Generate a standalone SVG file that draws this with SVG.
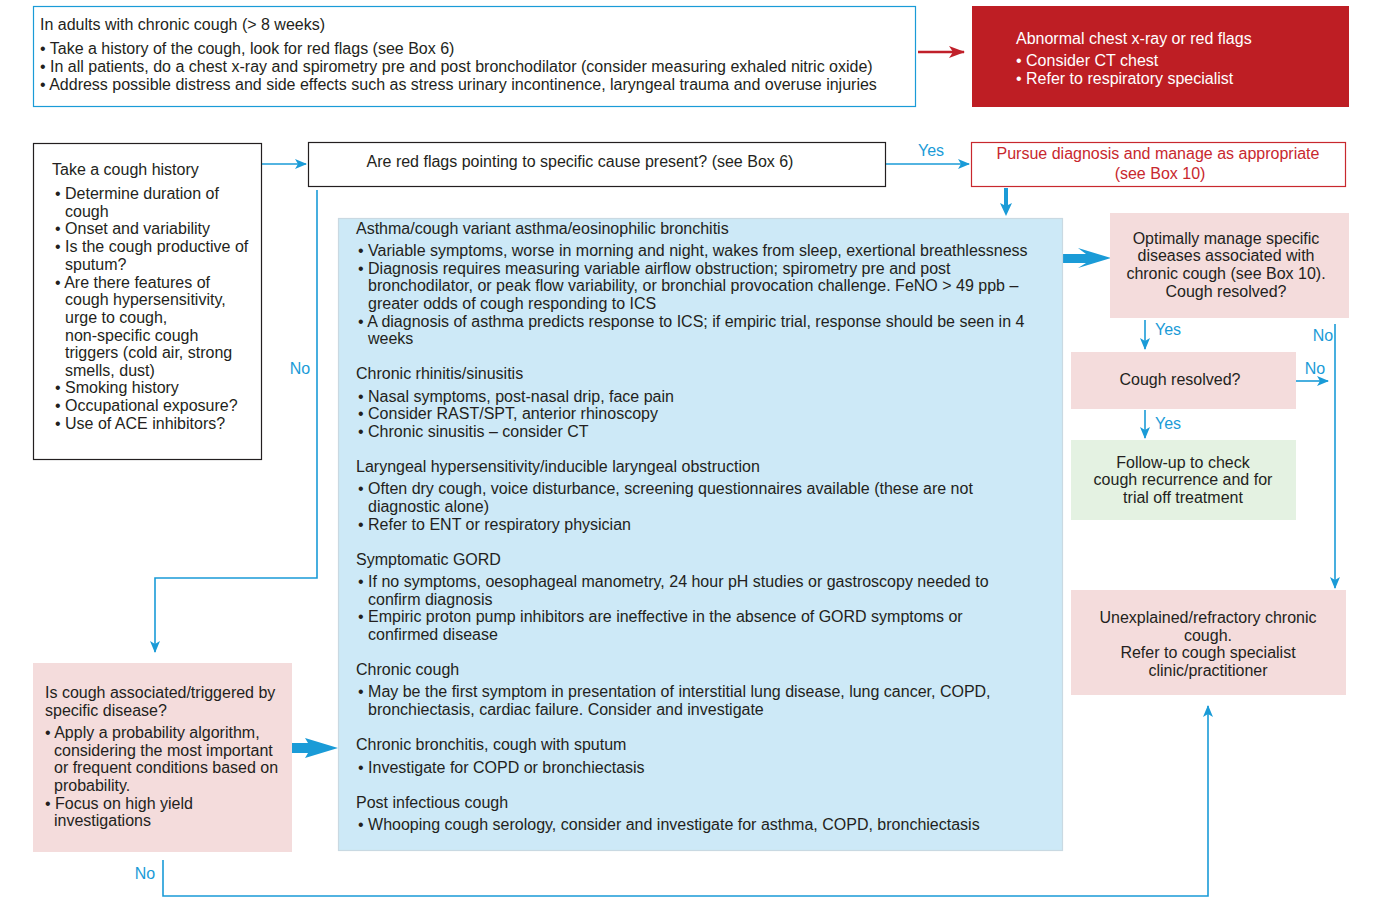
<svg xmlns="http://www.w3.org/2000/svg" width="1389" height="905" viewBox="0 0 1389 905">
<defs>
<style>
text{font-family:"Liberation Sans",Arial,sans-serif;font-size:16px;fill:#231f20}
.w{fill:#ffffff}
.r{fill:#c8282e}
.b{fill:#1a9bd7}
.c{text-anchor:middle}
.ln{fill:none;stroke:#1a9bd7;stroke-width:1.6}
.pink{fill:#f4dcdc}
</style>
<marker id="ah" viewBox="0 0 12 10" refX="11" refY="5" markerWidth="12" markerHeight="10" markerUnits="userSpaceOnUse" orient="auto">
<path d="M0,0 L12,5 L0,10 L3,5 Z" fill="#1a9bd7"/>
</marker>
<marker id="ahr" viewBox="0 0 16 12" refX="15" refY="6" markerWidth="16" markerHeight="12" markerUnits="userSpaceOnUse" orient="auto">
<path d="M0,0 L16,6 L0,12 L4,6 Z" fill="#c0202a"/>
</marker>
</defs>

<g id="connectors">
<line x1="918" y1="52" x2="964" y2="52" stroke="#c0202a" stroke-width="2.5" marker-end="url(#ahr)"/>
<line class="ln" x1="262" y1="164" x2="306" y2="164" marker-end="url(#ah)"/>
<line class="ln" x1="886" y1="164" x2="969" y2="164" marker-end="url(#ah)"/>
<text class="b" x="931" y="156" text-anchor="middle">Yes</text>
<path d="M1004,188 L1008,188 L1008,205 L1012,203 L1006,216 L1000,203 L1004,205 Z" fill="#1a9bd7"/>
<polyline class="ln" points="317,190 317,578 155,578 155,652" marker-end="url(#ah)"/>
<text class="b" x="300" y="374" text-anchor="middle">No</text>
<path d="M292,743 L308,743 L305,738 L338,748 L305,758 L308,753 L292,753 Z" fill="#1a9bd7"/>
<path d="M1063,254 L1086,254 L1078,248 L1111,258 L1078,268 L1086,263 L1063,263 Z" fill="#1a9bd7"/>
<line class="ln" x1="1145" y1="320" x2="1145" y2="349" marker-end="url(#ah)"/>
<text class="b" x="1168" y="335" text-anchor="middle">Yes</text>
<line class="ln" x1="1145" y1="410" x2="1145" y2="438" marker-end="url(#ah)"/>
<text class="b" x="1168" y="429" text-anchor="middle">Yes</text>
<line class="ln" x1="1296" y1="381" x2="1328" y2="381" marker-end="url(#ah)"/>
<text class="b" x="1315" y="374" text-anchor="middle">No</text>
<line class="ln" x1="1335" y1="324" x2="1335" y2="588" stroke-width="2" marker-end="url(#ah)"/>
<text class="b" x="1323" y="341" text-anchor="middle">No</text>
<polyline class="ln" points="163,860 163,896 1208,896 1208,706" marker-end="url(#ah)"/>
<text class="b" x="145" y="879" text-anchor="middle">No</text>
</g>

<g id="start">
<rect x="33.5" y="6.5" width="882" height="100" fill="#fff" stroke="#1a9bd7" stroke-width="1.2"/>
<text x="40" y="30">In adults with chronic cough (&gt; 8 weeks)</text>
<text x="40" y="54">• Take a history of the cough, look for red flags (see Box 6)</text>
<text x="40" y="72">• In all patients, do a chest x-ray and spirometry pre and post bronchodilator (consider measuring exhaled nitric oxide)</text>
<text x="40" y="90">• Address possible distress and side effects such as stress urinary incontinence, laryngeal trauma and overuse injuries</text>
</g>

<g id="redflags">
<rect x="972" y="6" width="377" height="101" fill="#be1e24"/>
<text class="w" x="1016" y="44">Abnormal chest x-ray or red flags</text>
<text class="w" x="1016" y="66">• Consider CT chest</text>
<text class="w" x="1016" y="84">• Refer to respiratory specialist</text>
</g>

<g id="history">
<rect x="33.5" y="143.5" width="228" height="316" fill="#fff" stroke="#231f20" stroke-width="1.2"/>
<text x="52" y="175">Take a cough history</text>
<text x="55" y="199">• Determine duration of</text>
<text x="65" y="217">cough</text>
<text x="55" y="234">• Onset and variability</text>
<text x="55" y="252">• Is the cough productive of</text>
<text x="65" y="270">sputum?</text>
<text x="55" y="288">• Are there features of</text>
<text x="65" y="305">cough hypersensitivity,</text>
<text x="65" y="323">urge to cough,</text>
<text x="65" y="341">non-specific cough</text>
<text x="65" y="358">triggers (cold air, strong</text>
<text x="65" y="376">smells, dust)</text>
<text x="55" y="393">• Smoking history</text>
<text x="55" y="411">• Occupational exposure?</text>
<text x="55" y="429">• Use of ACE inhibitors?</text>
</g>

<g id="question">
<rect x="308.5" y="142.5" width="577" height="44" fill="#fff" stroke="#231f20" stroke-width="1.2"/>
<text x="580" y="167" class="c">Are red flags pointing to specific cause present? (see Box 6)</text>
</g>

<g id="pursue">
<rect x="971.5" y="142.5" width="374" height="44" fill="#fff" stroke="#c8282e" stroke-width="1.2"/>
<text class="r c" x="1158" y="159">Pursue diagnosis and manage as appropriate</text>
<text class="r c" x="1160" y="179">(see Box 10)</text>
</g>

<g id="causes">
<rect x="338.5" y="218.5" width="724" height="632" fill="#cde9f7" stroke="#c9d9e2" stroke-width="1.2"/>
<text x="356" y="234">Asthma/cough variant asthma/eosinophilic bronchitis</text>
<text x="358" y="256">• Variable symptoms, worse in morning and night, wakes from sleep, exertional breathlessness</text>
<text x="358" y="274">• Diagnosis requires measuring variable airflow obstruction; spirometry pre and post</text>
<text x="368" y="291">bronchodilator, or peak flow variability, or bronchial provocation challenge. FeNO &gt; 49 ppb –</text>
<text x="368" y="309">greater odds of cough responding to ICS</text>
<text x="358" y="327">• A diagnosis of asthma predicts response to ICS; if empiric trial, response should be seen in 4</text>
<text x="368" y="344">weeks</text>
<text x="356" y="379">Chronic rhinitis/sinusitis</text>
<text x="358" y="402">• Nasal symptoms, post-nasal drip, face pain</text>
<text x="358" y="419">• Consider RAST/SPT, anterior rhinoscopy</text>
<text x="358" y="437">• Chronic sinusitis – consider CT</text>
<text x="356" y="472">Laryngeal hypersensitivity/inducible laryngeal obstruction</text>
<text x="358" y="494">• Often dry cough, voice disturbance, screening questionnaires available (these are not</text>
<text x="368" y="512">diagnostic alone)</text>
<text x="358" y="530">• Refer to ENT or respiratory physician</text>
<text x="356" y="565">Symptomatic GORD</text>
<text x="358" y="587">• If no symptoms, oesophageal manometry, 24 hour pH studies or gastroscopy needed to</text>
<text x="368" y="605">confirm diagnosis</text>
<text x="358" y="622">• Empiric proton pump inhibitors are ineffective in the absence of GORD symptoms or</text>
<text x="368" y="640">confirmed disease</text>
<text x="356" y="675">Chronic cough</text>
<text x="358" y="697">• May be the first symptom in presentation of interstitial lung disease, lung cancer, COPD,</text>
<text x="368" y="715">bronchiectasis, cardiac failure. Consider and investigate</text>
<text x="356" y="750">Chronic bronchitis, cough with sputum</text>
<text x="358" y="773">• Investigate for COPD or bronchiectasis</text>
<text x="356" y="808">Post infectious cough</text>
<text x="358" y="830">• Whooping cough serology, consider and investigate for asthma, COPD, bronchiectasis</text>
</g>

<g id="specific">
<rect class="pink" x="33" y="663" width="259" height="189"/>
<text x="45" y="698">Is cough associated/triggered by</text>
<text x="45" y="716">specific disease?</text>
<text x="45" y="738">• Apply a probability algorithm,</text>
<text x="54" y="756">considering the most important</text>
<text x="54" y="773">or frequent conditions based on</text>
<text x="54" y="791">probability.</text>
<text x="45" y="809">• Focus on high yield</text>
<text x="54" y="826">investigations</text>
</g>

<g id="optimally">
<rect class="pink" x="1110" y="213" width="239" height="105"/>
<text class="c" x="1226" y="244">Optimally manage specific</text>
<text class="c" x="1226" y="261">diseases associated with</text>
<text class="c" x="1226" y="279">chronic cough (see Box 10).</text>
<text class="c" x="1226" y="297">Cough resolved?</text>
</g>

<g id="resolved">
<rect class="pink" x="1071" y="352" width="225" height="57"/>
<text class="c" x="1180" y="385">Cough resolved?</text>
</g>

<g id="followup">
<rect x="1071" y="440" width="225" height="80" fill="#e4f2e2"/>
<text class="c" x="1183" y="468">Follow-up to check</text>
<text class="c" x="1183" y="485">cough recurrence and for</text>
<text class="c" x="1183" y="503">trial off treatment</text>
</g>

<g id="unexplained">
<rect class="pink" x="1071" y="590" width="275" height="105"/>
<text class="c" x="1208" y="623">Unexplained/refractory chronic</text>
<text class="c" x="1208" y="641">cough.</text>
<text class="c" x="1208" y="658">Refer to cough specialist</text>
<text class="c" x="1208" y="676">clinic/practitioner</text>
</g>
</svg>
